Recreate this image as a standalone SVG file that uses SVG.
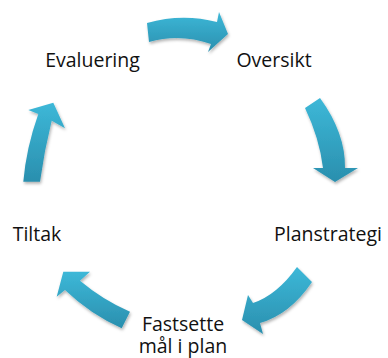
<svg xmlns="http://www.w3.org/2000/svg" width="388" height="358" viewBox="0 0 388 358">
<style>
.lbl{font-family:"Open Sans","Liberation Sans",sans-serif;font-size:19.5px;fill:#111;text-anchor:middle}
.arr{fill:url(#g);filter:url(#sh)}
</style>
<defs>
<linearGradient id="g" x1="0" y1="0" x2="0" y2="1">
<stop offset="0" stop-color="#3db8d8"/>
<stop offset="1" stop-color="#2a8fae"/>
</linearGradient>
<filter id="sh" x="-30%" y="-30%" width="160%" height="160%">
<feDropShadow dx="1" dy="2" stdDeviation="1.5" flood-color="#000" flood-opacity="0.3"/>
</filter>
</defs>
<rect width="388" height="358" fill="#fff"/>
<g id="connectors">
<path class="arr" d="M147,23 Q182,13 217,22 L219,12 L228,34 L208,52 L211,44 Q180,33 149,42 Z"/>
<path class="arr" d="M305,108 L320,98 Q345.5,133 345,168 L358,168 L335,182 L313,168 L323,168 Q319.4,138 305,108 Z"/>
<path class="arr" d="M297,267 L312,282 Q290,314.5 260,323 L263,334 L242,320 L248,295 L253,303 Q277,295 297,267 Z"/>
<path class="arr" d="M130,311.7 Q103,300 80,280.7 L90,271.7 L63.3,271.7 L56.7,296.7 L65,290 Q90,314 121.7,328.3 Z"/>
<path class="arr" d="M23.3,181.7 Q26.2,148 38.3,114 L28.3,110 L53.3,102.7 L65,128.3 L51.7,120.7 Q44.2,151 40,181.7 Z"/>
</g>
<g id="oversikt"><text class="lbl" x="274" y="67">Oversikt</text></g>
<g id="planstrategi"><text class="lbl" x="328" y="241">Planstrategi</text></g>
<g id="fastsette"><text class="lbl" x="183" y="331">Fastsette<tspan x="183" y="353">mål i plan</tspan></text></g>
<g id="tiltak"><text class="lbl" x="37" y="241">Tiltak</text></g>
<g id="evaluering"><text class="lbl" x="92.5" y="67">Evaluering</text></g>
</svg>
